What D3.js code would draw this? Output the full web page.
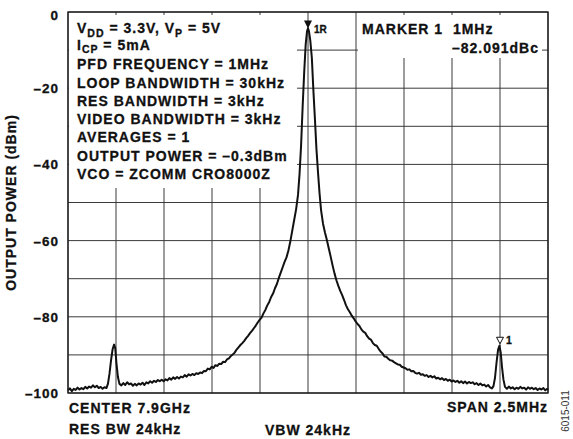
<!DOCTYPE html>
<html>
<head>
<meta charset="utf-8">
<script src="https://d3js.org/d3.v7.min.js"></script>
<style>
body { margin: 0; background: #fff; }
text { font-family: "Liberation Sans", Arial, sans-serif; font-weight: bold; fill: #111; stroke: #111; stroke-width: 0.3px; }
</style>
</head>
<body>
<div id="chart"></div>
<script>
// spectrum trace, offset from carrier in MHz / level in dBm
var trace = [
 [-1.25,-99.3],[-1.24,-98.8],[-1.23,-99.5],[-1.22,-98.9],[-1.21,-99.2],[-1.20,-98.6],[-1.19,-99.1],[-1.18,-98.7],
 [-1.17,-99.0],[-1.16,-98.4],[-1.15,-98.8],[-1.14,-98.3],[-1.13,-98.6],[-1.12,-98.0],[-1.11,-98.5],[-1.10,-98.1],
 [-1.09,-98.7],[-1.08,-98.4],[-1.07,-98.9],[-1.06,-98.5],[-1.05,-98.7],
 [-1.042,-97.6],[-1.034,-95.0],[-1.026,-91.5],[-1.018,-88.6],[-1.010,-87.3],[-1.004,-88.2],[-0.998,-92.0],[-0.990,-95.8],[-0.982,-97.6],
 [-0.972,-98.0],[-0.962,-97.4],[-0.952,-97.9],[-0.942,-97.2],[-0.932,-97.7],[-0.922,-97.5],[-0.912,-98.1],[-0.902,-97.6],
 [-0.892,-98.0],[-0.882,-97.5],[-0.872,-97.8],[-0.862,-97.3],[-0.852,-97.9],[-0.842,-97.2],[-0.832,-97.5],[-0.822,-96.9],
 [-0.812,-97.3],[-0.802,-96.8],[-0.792,-97.1],[-0.782,-96.6],[-0.772,-96.9],[-0.762,-96.5],[-0.752,-96.9],[-0.742,-96.4],
 [-0.732,-96.7],[-0.722,-96.1],[-0.712,-96.5],[-0.702,-95.9],[-0.692,-96.3],[-0.682,-95.8],[-0.672,-96.2],[-0.662,-95.7],
 [-0.652,-95.9],[-0.642,-95.3],[-0.632,-95.7],[-0.622,-95.1],[-0.612,-95.4],[-0.602,-95.0],[-0.592,-95.3],[-0.582,-94.8],
 [-0.572,-95.0],[-0.562,-94.6],[-0.552,-94.8],[-0.542,-94.2],[-0.532,-94.3],[-0.522,-93.6],[-0.512,-93.8],[-0.502,-93.1],
 [-0.492,-93.4],[-0.482,-92.7],[-0.472,-92.9],[-0.462,-92.3],[-0.452,-92.4],[-0.442,-91.8],[-0.432,-91.9],[-0.422,-91.2],
 [-0.412,-90.9],[-0.402,-90.3],[-0.392,-89.9],[-0.382,-89.4],[-0.372,-88.6],[-0.362,-88.0],[-0.352,-87.4],[-0.342,-86.9],
 [-0.332,-86.3],[-0.322,-85.6],[-0.312,-85.0],[-0.302,-84.3],[-0.292,-83.7],[-0.282,-83.0],[-0.272,-82.3],[-0.262,-81.5],
 [-0.252,-80.8],[-0.242,-80.2],[-0.232,-79.1],[-0.222,-78.2],[-0.212,-77.0],[-0.202,-76.1],[-0.192,-74.8],[-0.182,-73.9],
 [-0.172,-72.5],[-0.162,-71.4],[-0.152,-69.8],[-0.142,-68.4],[-0.132,-67.0],[-0.122,-65.6],[-0.112,-64.4],[-0.102,-62.6],
 [-0.092,-60.2],[-0.082,-57.4],[-0.072,-54.6],[-0.062,-51.8],[-0.052,-48.0],[-0.044,-42.5],[-0.036,-35.0],[-0.028,-25.0],
 [-0.020,-16.0],[-0.012,-8.5],[-0.005,-5.0],[0,-4.3],[0.005,-5.0],[0.012,-7.5],[0.020,-12.0],[0.028,-20.5],
 [0.036,-28.0],[0.044,-36.0],[0.052,-42.0],[0.060,-47.5],[0.068,-52.0],[0.078,-55.5],[0.088,-57.8],[0.098,-59.8],
 [0.108,-62.0],[0.118,-64.2],[0.128,-66.5],[0.138,-68.6],[0.148,-70.4],[0.158,-71.9],[0.168,-73.2],[0.178,-74.3],
 [0.188,-75.6],[0.198,-77.0],[0.208,-78.0],[0.218,-78.8],[0.228,-79.7],[0.238,-80.4],[0.248,-81.2],[0.258,-81.9],
 [0.268,-82.4],[0.278,-83.3],[0.288,-83.9],[0.298,-84.2],[0.308,-85.1],[0.318,-85.7],[0.328,-86.0],[0.338,-86.9],
 [0.348,-87.4],[0.358,-87.6],[0.368,-88.4],[0.378,-89.1],[0.388,-89.6],[0.398,-90.4],[0.408,-90.5],[0.418,-91.0],
 [0.428,-91.4],[0.438,-91.5],[0.448,-91.9],[0.458,-92.2],[0.468,-92.5],[0.478,-92.6],[0.488,-93.1],[0.498,-93.3],
 [0.508,-93.5],[0.518,-93.9],[0.528,-93.8],[0.538,-94.3],[0.548,-94.2],[0.558,-94.7],[0.568,-94.9],[0.578,-94.7],
 [0.588,-95.2],[0.598,-95.1],[0.608,-95.5],[0.618,-95.3],[0.628,-95.8],[0.638,-95.5],[0.648,-95.9],[0.658,-95.6],
 [0.668,-96.2],[0.678,-96.0],[0.688,-96.4],[0.698,-96.1],[0.708,-96.6],[0.718,-96.3],[0.728,-96.8],[0.738,-96.5],
 [0.748,-97.0],[0.758,-96.7],[0.768,-97.1],[0.778,-96.8],[0.788,-97.3],[0.798,-96.9],[0.808,-97.4],[0.818,-97.0],
 [0.828,-97.5],[0.838,-97.1],[0.848,-97.4],[0.858,-97.2],[0.868,-97.7],[0.878,-97.4],[0.888,-97.9],[0.898,-97.5],
 [0.908,-98.0],[0.918,-97.8],[0.928,-98.3],[0.938,-97.9],[0.948,-98.5],[0.958,-98.8],[0.966,-98.2],[0.974,-96.0],
 [0.982,-92.0],[0.990,-88.6],[0.997,-87.6],[1.004,-89.5],[1.011,-93.5],[1.018,-96.5],[1.026,-98.4],[1.036,-98.9],
 [1.046,-98.3],[1.056,-98.8],[1.066,-98.5],[1.076,-99.0],[1.086,-98.6],[1.096,-98.9],[1.106,-98.4],[1.116,-98.8],
 [1.126,-98.6],[1.136,-99.1],[1.146,-98.5],[1.156,-98.9],[1.166,-98.6],[1.176,-99.0],[1.186,-98.7],[1.196,-99.2],
 [1.206,-98.8],[1.216,-99.1],[1.226,-98.7],[1.236,-99.3],[1.246,-98.9],[1.25,-99.2]
]

var yTicks = [0, -20, -40, -60, -80, -100]
var refMarker = {f: 0, db: -4.3, label: "1R"}
var deltaMarker = {f: 1.0, db: -87.6, label: "1"}

// settings box, each line = list of [text, subscript?]
var infoLines = [
  [["V", 0], ["DD", 1], [" = 3.3V, V", 0], ["P", 1], [" = 5V", 0]],
  [["I", 0], ["CP", 1], [" = 5mA", 0]],
  [["PFD FREQUENCY = 1MHz", 0]],
  [["LOOP BANDWIDTH = 30kHz", 0]],
  [["RES BANDWIDTH = 3kHz", 0]],
  [["VIDEO BANDWIDTH = 3kHz", 0]],
  [["AVERAGES = 1", 0]],
  [["OUTPUT POWER = \u20130.3dBm", 0]],
  [["VCO = ZCOMM CRO8000Z", 0]]
]
var infoBase = [33, 49.5, 69, 87.5, 105.7, 124, 142.3, 160.7, 179]
var markerText = ["MARKER 1  1MHz", "\u201382.091dBc"]

var W = 573, H = 439

var svg = d3.select("#chart").append("svg")
    .attr("width", W)
    .attr("height", H)

var x = d3.scaleLinear().domain([-1.25, 1.25]).range([68, 548])
var y = d3.scaleLinear().domain([-100, 0]).range([393, 12])

var xDivs = d3.range(11).map(function(i){ return -1.25 + i * 0.25 })
var yDivs = d3.range(11).map(function(i){ return -100 + i * 10 })

// graticule
svg.selectAll(".vgrid").data(xDivs)
    .enter().append("line")
    .attr("class", "vgrid")
    .attr("x1", function(d){ return x(d) }).attr("x2", function(d){ return x(d) })
    .attr("y1", y(0)).attr("y2", y(-100))
    .attr("stroke", "#3a3a3a").attr("stroke-width", 1)

svg.selectAll(".hgrid").data(yDivs)
    .enter().append("line")
    .attr("class", "hgrid")
    .attr("x1", x(-1.25)).attr("x2", x(1.25))
    .attr("y1", function(d){ return y(d) }).attr("y2", function(d){ return y(d) })
    .attr("stroke", "#3a3a3a").attr("stroke-width", 1)

// white boxes behind annotation text
svg.append("rect").attr("x", 69).attr("y", 15).attr("width", 228).attr("height", 173).attr("fill", "#fff")
svg.append("rect").attr("x", 358).attr("y", 15).attr("width", 184).attr("height", 43).attr("fill", "#fff")

// left info lines
var info = svg.selectAll(".info").data(infoLines)
    .enter().append("text")
    .attr("class", "info")
    .attr("x", 77)
    .attr("y", function(d, i){ return infoBase[i] })
    .style("font-size", "14px")
    .style("letter-spacing", "1px")

info.each(function(line){
    var t = d3.select(this)
    var sub = 0
    line.forEach(function(seg){
        var shift = (seg[1] ? 3.5 : 0) - (sub ? 3.5 : 0)
        t.append("tspan")
            .attr("dy", shift)
            .style("font-size", seg[1] ? "10.5px" : "14px")
            .text(seg[0])
        sub = seg[1]
    })
})

// marker readout
svg.append("text").attr("x", 362).attr("y", 33.5)
    .style("font-size", "14px").style("letter-spacing", "1px")
    .style("white-space", "pre")
    .text(markerText[0])
svg.append("text").attr("x", 539).attr("y", 52.5)
    .attr("text-anchor", "end")
    .style("font-size", "14px").style("letter-spacing", "1px")
    .text(markerText[1])

// trace
var line = d3.line()
    .x(function(d){ return x(d[0]) })
    .y(function(d){ return y(d[1]) })

svg.append("path")
    .datum(trace)
    .attr("d", line)
    .attr("fill", "none")
    .attr("stroke", "#111")
    .attr("stroke-width", 2)
    .attr("stroke-linejoin", "round")

// markers
var rx = x(refMarker.f), ry = y(refMarker.db)
svg.append("path")
    .attr("d", "M" + (rx - 4) + "," + (ry - 8) + "L" + (rx + 4) + "," + (ry - 8) + "L" + rx + "," + ry + "Z")
    .attr("fill", "#111")
svg.append("text").attr("x", rx + 6).attr("y", ry + 5)
    .style("font-size", "10px")
    .text(refMarker.label)

var mx = x(deltaMarker.f), my = y(deltaMarker.db) - 2
svg.append("path")
    .attr("d", "M" + (mx - 3.5) + "," + (my - 6.5) + "L" + (mx + 3.5) + "," + (my - 6.5) + "L" + mx + "," + my + "Z")
    .attr("fill", "#fff").attr("stroke", "#111").attr("stroke-width", 1)
svg.append("text").attr("x", mx + 6).attr("y", my + 0.5)
    .style("font-size", "10.5px")
    .text(deltaMarker.label)

// frame
svg.append("rect")
    .attr("x", x(-1.25)).attr("y", y(0))
    .attr("width", x(1.25) - x(-1.25)).attr("height", y(-100) - y(0))
    .attr("fill", "none").attr("stroke", "#1a1a1a").attr("stroke-width", 1.3)

// y axis labels
svg.selectAll(".ytick").data(yTicks)
    .enter().append("text")
    .attr("class", "ytick")
    .attr("x", 59)
    .attr("y", function(d){ return y(d) + (d == 0 ? 8 : 5) })
    .attr("text-anchor", "end")
    .style("font-size", "13.5px")
    .style("letter-spacing", "1px")
    .text(function(d){ return d == 0 ? "0" : "\u2013" + Math.abs(d) })

svg.append("text")
    .attr("transform", "translate(15.5," + ((y(0) + y(-100)) / 2) + ") rotate(-90)")
    .attr("text-anchor", "middle")
    .style("font-size", "14px")
    .style("letter-spacing", "1px")
    .text("OUTPUT POWER (dBm)")

// footer
svg.append("text").attr("x", 69).attr("y", 413)
    .style("font-size", "14px").style("letter-spacing", "1px")
    .text("CENTER 7.9GHz")
svg.append("text").attr("x", 69).attr("y", 433.5)
    .style("font-size", "14px").style("letter-spacing", "1px")
    .text("RES BW 24kHz")
svg.append("text").attr("x", 265).attr("y", 435)
    .style("font-size", "14px").style("letter-spacing", "1px")
    .text("VBW 24kHz")
svg.append("text").attr("x", 548).attr("y", 412)
    .attr("text-anchor", "end")
    .style("font-size", "14px").style("letter-spacing", "1px")
    .text("SPAN 2.5MHz")

svg.append("text")
    .attr("transform", "translate(569,411) rotate(-90)")
    .attr("text-anchor", "middle")
    .style("font-size", "10px")
    .style("font-weight", "normal")
    .style("stroke", "none")
    .style("fill", "#333")
    .text("6015-011")
</script>
</body>
</html>
